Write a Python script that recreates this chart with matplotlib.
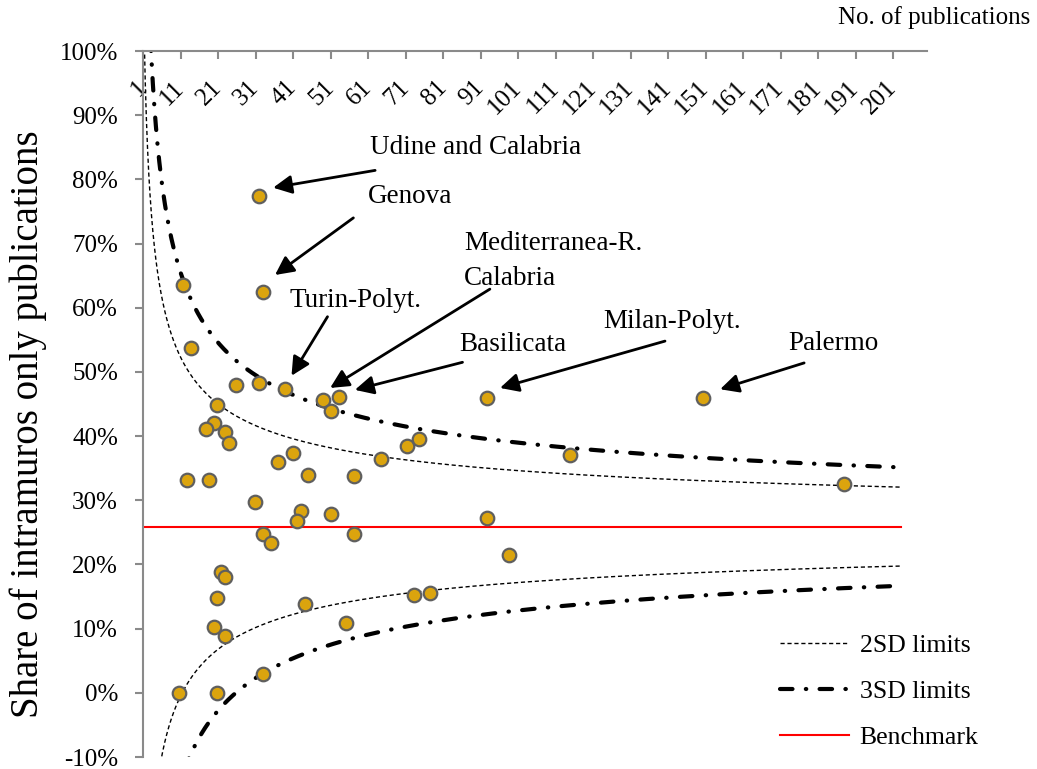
import numpy as np
import matplotlib
matplotlib.use("Agg")
import matplotlib.pyplot as plt

plt.rcParams['font.family'] = ['Liberation Serif', 'DejaVu Serif']
plt.rcParams['font.size'] = 18

# ---- data ----
n_pubs = [11.6, 33.1, 13.7, 25.8, 31.9, 38.9, 49.1, 53.2, 51.1, 20.8,
          19.9, 17.8, 22.9, 23.8, 41.0, 36.9, 71.4, 74.5, 64.4, 45.1,
          57.3, 12.8, 18.7, 30.9, 43.1, 51.0, 42.1, 33.0, 57.3, 35.0,
          98.7, 21.8, 22.9, 20.8, 73.3, 77.5, 44.1, 55.2, 19.9, 22.9,
          33.0, 10.7, 20.8, 92.6, 114.9, 92.6, 31.9, 150.4, 187.9]
share_pct = [63.5, 62.4, 53.75, 47.9, 48.3, 47.3, 45.7, 46.1, 43.85, 44.9,
             42.0, 41.05, 40.7, 38.95, 37.4, 36.0, 38.4, 39.6, 36.4, 34.0,
             33.8, 33.2, 33.2, 29.8, 28.4, 27.9, 26.7, 24.8, 24.8, 23.3,
             21.5, 18.9, 18.1, 14.8, 15.2, 15.6, 13.8, 10.9, 10.3, 8.9,
             3.0, 0.0, 0.0, 46.0, 37.1, 27.3, 77.4, 46.0, 32.5]
benchmark = 0.259
n_range = (1, 203)

x_ticks = list(range(1, 202, 10))
x_tick_labels = [str(t) for t in x_ticks]
y_ticks = [v / 100 for v in range(-10, 101, 10)]
y_tick_labels = [f"{v}%" for v in range(-10, 101, 10)]

labels_text = ["Udine and Calabria", "Genova", "Mediterranea-R.\nCalabria",
               "Turin-Polyt.", "Basilicata", "Milan-Polyt.", "Palermo"]
# text anchor (n, %), arrow tail (n, %), arrow tip (n, %)
label_pos = [(61.5, 84.9), (60.9, 77.3), (86.6, 67.3), (40.2, 61.2),
             (85.3, 54.2), (123.7, 57.8), (173.0, 54.5)]
arrow_tail = [(62.9, 81.4), (57.1, 74.0), (93.5, 62.9), (50.2, 58.6),
              (86.2, 51.5), (140.2, 54.8), (177.3, 51.4)]
arrow_tip = [(35.7, 78.7), (36.2, 65.1), (50.9, 47.5), (40.6, 49.4),
             (57.5, 47.2), (96.2, 47.5), (154.9, 47.3)]

# ---- figure ----
fig = plt.figure(figsize=(10.37, 7.69), dpi=100)
ax = fig.add_axes([143 / 1037, 1 - 757 / 769, (926.75 - 143) / 1037, (757 - 51) / 769])

n = np.linspace(n_range[0], n_range[1], 2000)
se = np.sqrt(benchmark * (1 - benchmark) / n)

ax.plot(n, benchmark + 2 * se, color='black', lw=1.0, dashes=(3, 2), label='2SD limits')
ax.plot(n, benchmark - 2 * se, color='black', lw=1.0, dashes=(3, 2))
ax.plot(n, benchmark + 3 * se, color='black', lw=3.0, dashes=(3, 3.2, 0.1, 3.2),
        dash_capstyle='round', label='3SD limits')
ax.plot(n, benchmark - 3 * se, color='black', lw=3.0, dashes=(3, 3.2, 0.1, 3.2),
        dash_capstyle='round')
ax.plot(list(n_range), [benchmark, benchmark], color='red', lw=1.5, label='Benchmark')

ax.scatter(n_pubs, np.array(share_pct) / 100, s=95, facecolor='#DBA40E',
           edgecolor='#5f5f5f', linewidth=1.6, zorder=5)

for txt, lp, tl, tp in zip(labels_text, label_pos, arrow_tail, arrow_tip):
    ax.text(lp[0], lp[1] / 100, txt, ha='left', va='center', fontsize=19.5,
            linespacing=1.5)
    ax.annotate('', xy=(tp[0], tp[1] / 100), xytext=(tl[0], tl[1] / 100),
                arrowprops=dict(arrowstyle='-|>', color='black', lw=2,
                                mutation_scale=28, shrinkA=0, shrinkB=0))

ax.set_xlim(1, 210)
ax.set_ylim(-0.10, 1.00)

ax.set_xticks(x_ticks)
ax.set_xticklabels(x_tick_labels)
ax.set_yticks(y_ticks)
ax.set_yticklabels(y_tick_labels)

gray = '#8a8a8a'
for s in ['bottom', 'right']:
    ax.spines[s].set_visible(False)
for s in ['top', 'left']:
    ax.spines[s].set_color(gray)
    ax.spines[s].set_linewidth(1.5)

ax.tick_params(axis='x', top=True, bottom=False, labeltop=True, labelbottom=False,
               direction='in', length=6, width=1.5, color=gray, pad=-24)
for lab in ax.get_xticklabels():
    lab.set_rotation(45)
    lab.set_ha('right')
    lab.set_va('center')
    lab.set_rotation_mode('anchor')
ax.tick_params(axis='y', direction='out', length=6, width=1.5, color=gray, pad=12)

fig.text(1030 / 1037, 1 - 18 / 769, 'No. of publications', ha='right', va='center', fontsize=18)
fig.text(28.5 / 1037, 1 - 424 / 769, 'Share of intramuros only publications',
         rotation=90, ha='center', va='center', fontsize=28)

leg = ax.legend(loc='upper left', bbox_to_anchor=(780 / 1037, 1 - 634 / 769),
                bbox_transform=fig.transFigure, frameon=False, fontsize=18.5,
                handlelength=2.7, handletextpad=0.4, labelspacing=0.9,
                borderpad=0, borderaxespad=0)

fig.savefig('out.png', dpi=100)
